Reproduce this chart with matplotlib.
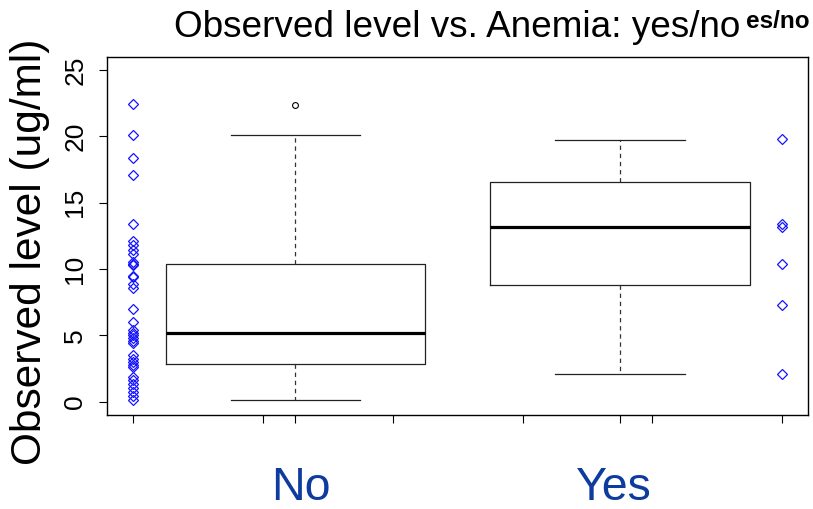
import matplotlib
matplotlib.use("Agg")
import matplotlib.pyplot as plt
import matplotlib.transforms as mtransforms

plt.rcParams['font.family'] = ['Liberation Sans', 'DejaVu Sans']

# ---- data ----
categories = ["No", "Yes"]
no_points = [22.4, 20.1, 18.4, 17.1, 13.4, 12.1, 11.8, 11.4, 11.1, 10.5, 10.4, 10.3,
             9.5, 9.4, 8.9, 8.6, 7.0, 6.0, 5.4, 5.2, 5.0, 4.8, 4.6, 4.4,
             3.5, 3.2, 3.0, 2.8, 2.6, 1.9, 1.6, 1.3, 1.0, 0.7, 0.4, 0.1]
yes_points = [19.8, 13.4, 13.2, 10.4, 7.3, 2.1]

box_low = [0.15, 2.1]
box_q1 = [2.85, 8.8]
box_med = [5.2, 13.2]
box_q3 = [10.35, 16.55]
box_high = [20.1, 19.7]
box_fliers = [[22.35], []]

y_ticks = [0, 5, 10, 15, 20, 25]
x_ticks_extra = [0.5, 0.9, 1.3, 1.7, 2.1, 2.5]

fig = plt.figure(figsize=(8.13, 5.09), dpi=100)
ax = fig.add_axes([107.3 / 813, 1 - 415 / 509, (808 - 107.3) / 813, (415 - 56.7) / 509])

stats = []
for i in range(len(categories)):
    stats.append(dict(med=box_med[i], q1=box_q1[i], q3=box_q3[i],
                      whislo=box_low[i], whishi=box_high[i], fliers=box_fliers[i]))

ax.bxp(stats, positions=[1, 2], widths=0.8, capwidths=0.4, showfliers=True,
       boxprops=dict(color='#222222', linewidth=0.9),
       whiskerprops=dict(color='#333333', linewidth=0.9, linestyle=(0, (3.5, 3))),
       capprops=dict(color='#222222', linewidth=0.9),
       medianprops=dict(color='black', linewidth=2.3, solid_capstyle='butt'),
       flierprops=dict(marker='o', markersize=4.2, markerfacecolor='none',
                       markeredgecolor='black', markeredgewidth=0.8))

ax.plot([0.5] * len(no_points), no_points, linestyle='none', marker='D', markersize=5.5,
        markerfacecolor='none', markeredgecolor='#1515ff', markeredgewidth=0.9)
ax.plot([2.5] * len(yes_points), yes_points, linestyle='none', marker='D', markersize=5.5,
        markerfacecolor='none', markeredgecolor='#1515ff', markeredgewidth=0.9)

ax.set_xlim(0.42, 2.58)
ax.set_ylim(-1, 26)

ax.set_yticks(y_ticks)
ax.set_yticklabels([str(t) for t in y_ticks], rotation=90, va='center', fontsize=19)
ax.tick_params(axis='y', length=5.5, width=0.8, pad=9, colors='black')

ax.set_xticks(x_ticks_extra + [1, 2])
ax.set_xticklabels([''] * (len(x_ticks_extra) + 2))
ax.tick_params(axis='x', length=5.5, width=0.8)

trans = mtransforms.blended_transform_factory(ax.transData, fig.transFigure)
for xpos, lab in zip([1.016, 1.981], categories):
    ax.text(xpos, 1 - 500 / 509, lab, transform=trans, fontsize=33.5, color='#0e3b9e',
            ha='center', va='baseline')

for s in ax.spines.values():
    s.set_linewidth(1.0)

ax.set_ylabel("Observed level (ug/ml)", fontsize=30.5)
ax.yaxis.set_label_coords(-0.082, 0.455)
ax.set_title("Observed level vs. Anemia: yes/no", fontsize=26.6, pad=14)
fig.text(810 / 813, 1 - 28 / 509, "es/no", fontsize=17.5, fontweight='bold',
         ha='right', va='baseline')

fig.savefig("out.png", dpi=100)
